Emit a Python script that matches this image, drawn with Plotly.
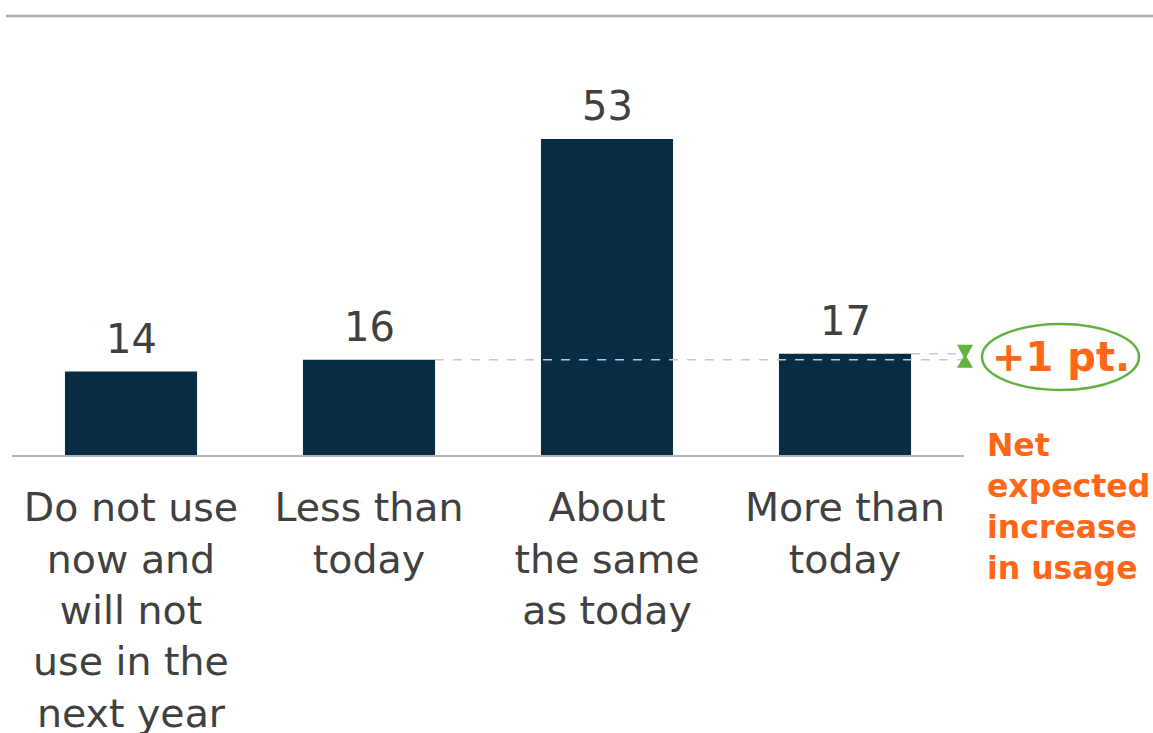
import plotly.graph_objects as go

categories = ["Do not use<br>now and<br>will not<br>use in the<br>next year",
              "Less than<br>today",
              "About<br>the same<br>as today",
              "More than<br>today"]
values = [14, 16, 53, 17]
net_label = "+1 pt."
net_note = "Net<br>expected<br>increase<br>in usage"

W, H = 1153, 733
L, R, T, B = 12, 189, 30, 278
plot_w = W - L - R
plot_h = H - T - B
px_per_unit = 5.96
ymax = plot_h / px_per_unit

BAR = "#072c45"
TXT = "#404040"
ORANGE = "#ff6616"
GREEN = "#62b23f"
FONT = "DejaVu Sans"

x = list(range(len(values)))

def px2paper_x(px):
    return (px - L) / plot_w

def px2paper_y(py):
    return (H - B - py) / plot_h

def val2paper_y(v):
    return v / ymax

fig = go.Figure()
fig.add_trace(go.Bar(
    x=x, y=values, width=0.555, marker_color=BAR, marker_line_width=0,
    hoverinfo="skip", cliponaxis=False,
))
for xi, v in zip(x, values):
    fig.add_annotation(xref="x", yref="y", x=xi, y=v, text=str(v), showarrow=False,
                       yanchor="bottom", yshift=8,
                       font=dict(size=40, color=TXT, family=FONT))

bw = 0.555 / 2
less, more = values[1], values[3]
xe = 3.49
# dashed reference lines
fig.add_shape(type="line", xref="x", yref="y", x0=1 + bw, x1=xe, y0=less, y1=less,
              line=dict(color="#c8c8c8", width=1.5, dash="dash"))
fig.add_shape(type="line", xref="x", yref="y", x0=3 + bw, x1=xe, y0=more, y1=more,
              line=dict(color="#c8c8c8", width=1.5, dash="dash"))
# hourglass arrow between the two levels
fig.add_shape(type="path", xref="paper", yref="paper", xsizemode="pixel", ysizemode="pixel",
              xanchor=px2paper_x(965), yanchor=val2paper_y((less + more) / 2),
              path="M -8,12 L 8,12 L 1.5,0 L 8,-11 L -8,-11 L -1.5,0 Z",
              fillcolor=GREEN, line=dict(width=0))
# ellipse
fig.add_shape(type="circle", xref="paper", yref="paper",
              x0=px2paper_x(982), x1=px2paper_x(1139), y0=px2paper_y(390), y1=px2paper_y(324),
              line=dict(color=GREEN, width=2.5))
fig.add_annotation(xref="paper", yref="paper", x=px2paper_x(1061), y=px2paper_y(357),
                   text=f"<b>{net_label}</b>", showarrow=False,
                   font=dict(size=40, color=ORANGE, family=FONT), xanchor="center", yanchor="middle")
fig.add_annotation(xref="paper", yref="paper", x=px2paper_x(985), y=px2paper_y(425),
                   text=f"<b>{net_note}</b>", showarrow=False, align="left",
                   font=dict(size=31.5, color=ORANGE, family=FONT), xanchor="left", yanchor="top")
# top rule
fig.add_shape(type="line", xref="paper", yref="paper", x0=px2paper_x(6), x1=px2paper_x(1153),
              y0=px2paper_y(16), y1=px2paper_y(16), line=dict(color="#ababab", width=2.5))

fig.update_layout(
    width=W, height=H, margin=dict(l=L, r=R, t=T, b=B, autoexpand=False),
    plot_bgcolor="white", paper_bgcolor="white", showlegend=False,
    font=dict(family=FONT, color=TXT),
    xaxis=dict(tickmode="array", tickvals=x, ticktext=categories, range=[-0.5, 3.5],
               showline=True, linecolor="#b3b3b3", linewidth=2, ticks="",
               tickfont=dict(size=39.5, color=TXT, family=FONT), ticklabelstandoff=17,
               showgrid=False, zeroline=False, fixedrange=True, automargin=False),
    yaxis=dict(range=[0, ymax], visible=False, showgrid=False, zeroline=False, automargin=False),
)
fig.write_html("out.html")
